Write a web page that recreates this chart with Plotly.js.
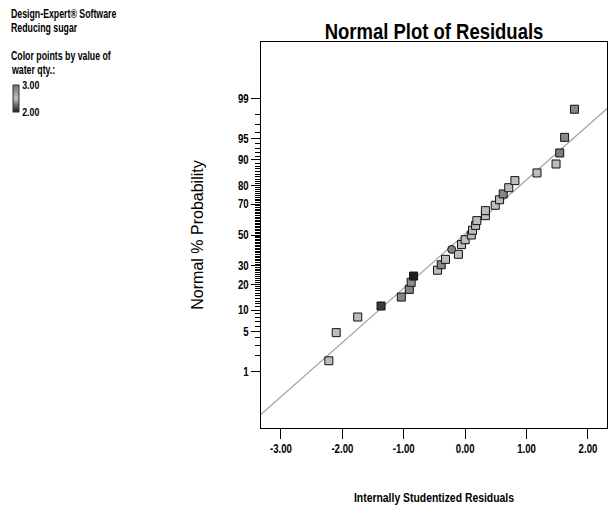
<!DOCTYPE html>
<html>
<head>
<meta charset="utf-8">
<script src="https://cdn.plot.ly/plotly-3.0.1.min.js"></script>
<style>
html,body{margin:0;padding:0;background:#fff;}
#chart{width:613px;height:518px;}
</style>
</head>
<body>
<div id="chart"></div>
<script>
// ---- data ----
const residuals = [-2.22, -2.10, -1.75, -1.37, -1.04, -0.91, -0.88, -0.84, -0.45, -0.39,
                   -0.32, -0.11, -0.22, -0.06, 0.00, 0.10, 0.12, 0.17, 0.19, 0.33,
                   0.33, 0.49, 0.56, 0.62, 0.71, 0.81, 1.17, 1.48, 1.54, 1.62, 1.78];
const normalPct = [1.6, 4.8, 8.1, 11.3, 14.5, 17.7, 21.0, 24.2, 27.4, 30.6,
                   33.9, 37.1, 40.3, 43.5, 46.8, 50.0, 53.2, 56.5, 59.7, 62.9,
                   66.1, 69.4, 72.6, 75.8, 79.0, 82.3, 85.5, 88.7, 91.9, 95.2, 98.4];
const waterQty  = [2.5, 2.5, 2.5, 2.1, 2.85, 2.85, 2.8, 2.0, 2.5, 2.85,
                   2.5, 2.5, 2.9, 2.5, 2.5, 2.5, 2.5, 2.5, 2.5, 2.5,
                   2.5, 2.5, 2.5, 2.85, 2.5, 2.5, 2.5, 2.5, 2.92, 2.85, 2.85];
const pointShape = ['square','square','square','square','square','square','square','square','square','square',
                    'square','square','circle','square','square','square','square','square','square','square',
                    'square','square','square','square','square','square','square','square','square','square','square'];
const fitX   = [-3.5, 2.5];
const fitPct = [0.064, 99.01];
const xTickVals  = [-3, -2, -1, 0, 1, 2];
const xTickText  = ['-3.00', '-2.00', '-1.00', '0.00', '1.00', '2.00'];
const yMajorPct  = [1, 5, 10, 20, 30, 50, 70, 80, 90, 95, 99];
const yRangePct  = [0.05, 99.95];
const colorMin = 2.0, colorMax = 3.0;

// inverse normal CDF (Acklam) - probability-scale axis transform
function probit(p){
  const a=[-3.969683028665376e+01,2.209460984245205e+02,-2.759285104469687e+02,1.383577518672690e+02,-3.066479806614716e+01,2.506628277459239e+00];
  const b=[-5.447609879822406e+01,1.615858368580409e+02,-1.556989798598866e+02,6.680131188771972e+01,-1.328068155288572e+01];
  const c=[-7.784894002430293e-03,-3.223964580411365e-01,-2.400758277161838e+00,-2.549671503669335e+00,4.374664141464968e+00,2.938163982698783e+00];
  const d=[7.784695709041462e-03,3.224671290700398e-01,2.445134137142996e+00,3.754408661907416e+00];
  const pl=0.02425, ph=1-pl; let q,r;
  if(p<pl){q=Math.sqrt(-2*Math.log(p));return (((((c[0]*q+c[1])*q+c[2])*q+c[3])*q+c[4])*q+c[5])/((((d[0]*q+d[1])*q+d[2])*q+d[3])*q+1);}
  if(p<=ph){q=p-0.5;r=q*q;return (((((a[0]*r+a[1])*r+a[2])*r+a[3])*r+a[4])*r+a[5])*q/(((((b[0]*r+b[1])*r+b[2])*r+b[3])*r+b[4])*r+1);}
  q=Math.sqrt(-2*Math.log(1-p));return -(((((c[0]*q+c[1])*q+c[2])*q+c[3])*q+c[4])*q+c[5])/((((d[0]*q+d[1])*q+d[2])*q+d[3])*q+1);
}
const z = pct => probit(pct/100);

const yMinorPct = [];
for(let i=1;i<=99;i++){ if(yMajorPct.indexOf(i)<0) yMinorPct.push(i); }

const BOLDF = '"Liberation Sans", Arial, sans-serif';
const tickFont = {family: BOLDF, size: 12, color: '#000', weight: 'bold'};

// plot area in pixels
const W=613, H=518, L=261, R=607, T=42, B=428;
const px = x => (x-L)/(R-L);
const py = y => (B-y)/(B-T);

const traces = [
  {
    x: fitX, y: fitPct.map(z), type: 'scatter', mode: 'lines',
    line: {color: '#a6a6a6', width: 1.2}, hoverinfo: 'skip', showlegend: false
  },
  {
    x: residuals, y: normalPct.map(z), type: 'scatter', mode: 'markers',
    showlegend: false,
    marker: {
      symbol: pointShape, size: 8,
      color: waterQty, cmin: colorMin, cmax: colorMax,
      colorscale: [[0,'#1c1c1c'],[0.5,'#bcbcbc'],[1,'#707070']],
      line: {color: '#111', width: 1},
      showscale: true,
      colorbar: {
        x: px(13), xanchor: 'left', y: py(85), yanchor: 'top',
        len: 27, lenmode: 'pixels', thickness: 6, thicknessmode: 'pixels',
        xpad: 0, ypad: 0, outlinewidth: 1, outlinecolor: '#333',
        tickvals: [colorMin, colorMax], ticktext: ['2.00','3.00'], ticks: '',
        tickfont: {family: BOLDF, size: 11, color: '#000', weight: 'bold'}
      }
    }
  }
];

const layout = {
  width: W, height: H,
  margin: {l: L, r: W-R, t: T, b: H-B, pad: 0},
  paper_bgcolor: '#fff', plot_bgcolor: '#fff',
  font: {family: BOLDF, color: '#000'},
  title: {text: 'Normal Plot of Residuals', x: (L+R)/2/W, xanchor: 'center', y: 1-31/H, yanchor: 'middle',
          font: {family: BOLDF, size: 22, color: '#000', weight: 'bold'}},
  xaxis: {
    range: [-3.325, 2.31], showgrid: false, zeroline: false,
    showline: true, linecolor: '#000', linewidth: 1, mirror: true,
    tickmode: 'array', tickvals: xTickVals, ticktext: xTickText,
    ticks: 'outside', ticklen: 10, tickcolor: '#000', tickwidth: 1,
    tickfont: tickFont,
    title: {text: 'Internally Studentized Residuals', standoff: 37,
            font: {family: BOLDF, size: 13, color: '#000', weight: 'bold'}}
  },
  yaxis: {
    range: [z(yRangePct[0]), z(yRangePct[1])], showgrid: false, zeroline: false,
    showline: true, linecolor: '#000', linewidth: 1, mirror: true,
    tickmode: 'array', tickvals: yMajorPct.map(z), ticktext: yMajorPct.map(String),
    ticks: 'outside', ticklen: 9, tickcolor: '#000', tickwidth: 1,
    tickfont: tickFont,
    minor: {tickmode: 'array', tickvals: yMinorPct.map(z), ticks: 'outside', ticklen: 5, tickcolor: '#000', tickwidth: 1, showgrid: false},
    title: {text: 'Normal % Probability', standoff: 27,
            font: {family: BOLDF, size: 16, color: '#000'}}
  },
  annotations: [
    {text: 'Design-Expert® Software', x: px(9), y: py(14)},
    {text: 'Reducing sugar', x: px(9), y: py(28)},
    {text: 'Color points by value of', x: px(9), y: py(56)},
    {text: 'water qty.:', x: px(9), y: py(70)}
  ].map(a => Object.assign(a, {xref: 'paper', yref: 'paper', xanchor: 'left', yanchor: 'middle', align: 'left',
        showarrow: false, font: {family: BOLDF, size: 12, color: '#000', weight: 'bold'}}))
};

Plotly.newPlot('chart', traces, layout, {displayModeBar: false, staticPlot: true}).then(gd => {
  // condensed look of the original's bold labels
  gd.querySelectorAll('text').forEach(t => {
    if (t.classList.contains('ytitle')) return;
    const f = t.classList.contains('gtitle') ? 0.84 : (t.classList.contains('annotation-text') ? 0.73 : 0.8);
    const w = t.getComputedTextLength();
    if (w > 0) {
      t.setAttribute('textLength', (w * f).toFixed(1));
      t.setAttribute('lengthAdjust', 'spacingAndGlyphs');
    }
  });
});
</script>
</body>
</html>
